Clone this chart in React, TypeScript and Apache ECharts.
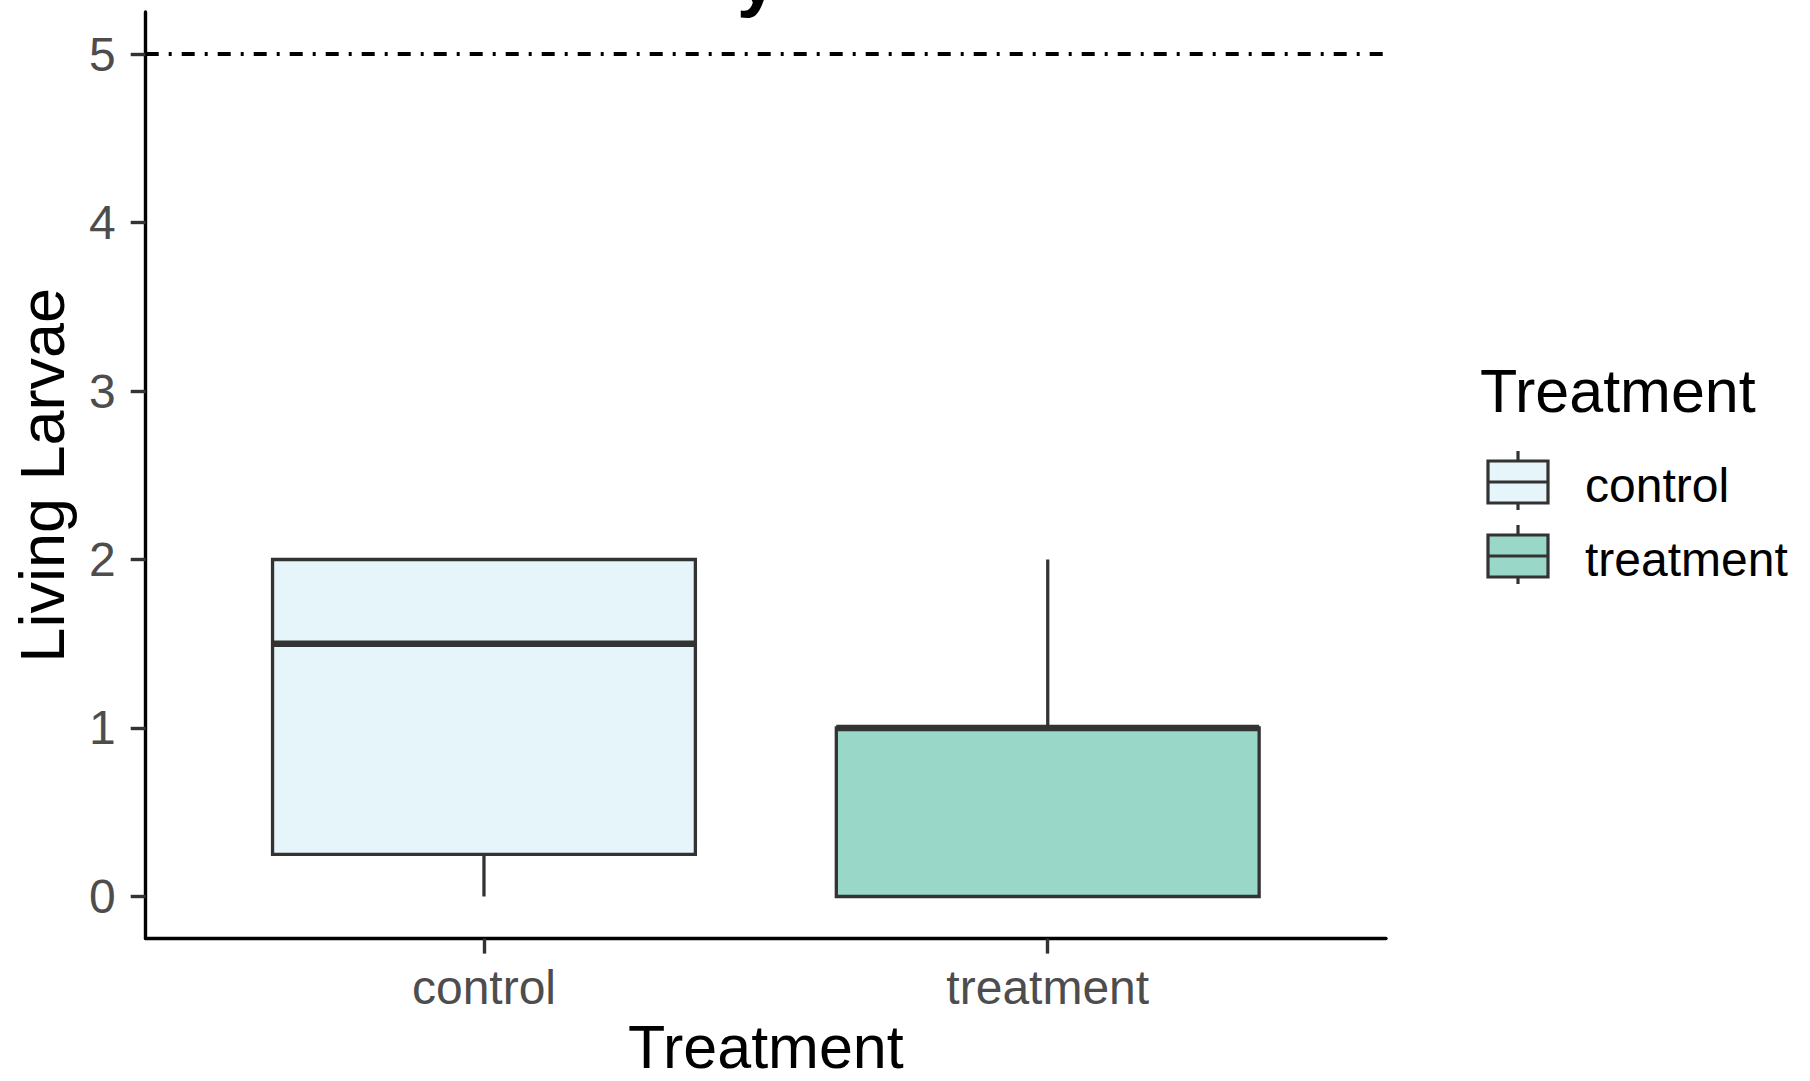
import React, { useEffect, useRef } from "react";
import * as echarts from "echarts";

const categories = ["control", "treatment"];
const catPos = [1, 2];
const boxMin = [0, 0];
const boxQ1 = [0.25, 0];
const boxMedian = [1.5, 1];
const boxQ3 = [2, 1];
const boxMax = [2, 2];
const fills = ["#E5F5F9", "#99D8C9"];
const yTicks = [0, 1, 2, 3, 4, 5];
const refLine = 5;
const xRange = [0.4, 2.6];
const yRange = [-0.25, 5.25];

const FONT = "'Liberation Sans', Arial, sans-serif";
const OUTLINE = "#333333";

export default function App() {
  const ref = useRef<HTMLDivElement>(null);
  useEffect(() => {
    if (!ref.current) return;
    const chart = echarts.init(ref.current, null, { renderer: "svg" });
    const boxData = categories.map((_, i) => [
      catPos[i],
      boxMin[i],
      boxQ1[i],
      boxMedian[i],
      boxQ3[i],
      boxMax[i],
    ]);

    const legendChildren: any[] = [];
    legendChildren.push({
      type: "text",
      x: 1480,
      y: 391,
      style: {
        text: "Treatment",
        font: `61px ${FONT}`,
        fill: "#000",
        align: "left",
        verticalAlign: "middle",
      },
    });
    categories.forEach((c, i) => {
      const top = 461 + i * 74;
      const h = 42;
      const left = 1488;
      const w = 60;
      const cx = left + w / 2;
      legendChildren.push({
        type: "line",
        shape: { x1: cx, y1: top - 10, x2: cx, y2: top + h + 7 },
        style: { stroke: OUTLINE, lineWidth: 3.2 },
      });
      legendChildren.push({
        type: "rect",
        shape: { x: left, y: top, width: w, height: h },
        style: { fill: fills[i], stroke: OUTLINE, lineWidth: 3.2 },
      });
      legendChildren.push({
        type: "line",
        shape: { x1: left, y1: top + h / 2, x2: left + w, y2: top + h / 2 },
        style: { stroke: OUTLINE, lineWidth: 3.2 },
      });
      legendChildren.push({
        type: "text",
        x: 1585,
        y: top + 24,
        style: {
          text: c,
          font: `48px ${FONT}`,
          fill: "#000",
          align: "left",
          verticalAlign: "middle",
        },
      });
    });

    const option: any = {
      animation: false,
      backgroundColor: "#ffffff",
      grid: {
        left: 145.7,
        top: 11.9,
        width: 1240.3,
        height: 926.7,
        containLabel: false,
        outerBoundsMode: "none",
      },
      xAxis: {
        type: "value",
        min: xRange[0],
        max: xRange[1],
        name: "Treatment",
        nameLocation: "middle",
        nameGap: 75,
        nameTextStyle: { fontFamily: FONT, fontSize: 61, color: "#000" },
        axisLine: { show: true, onZero: false, lineStyle: { color: "#000", width: 3.4 } },
        axisTick: { show: true, length: 15, customValues: catPos, lineStyle: { color: OUTLINE, width: 3.4 } },
        axisLabel: {
          customValues: catPos,
          margin: 25,
          fontFamily: FONT,
          fontSize: 48,
          color: "#4D4D4D",
          formatter: (v: number) => categories[Math.round(v) - 1] ?? "",
        },
        splitLine: { show: false },
      },
      yAxis: {
        type: "value",
        min: yRange[0],
        max: yRange[1],
        name: "Living Larvae",
        nameLocation: "middle",
        nameRotate: 90,
        nameGap: 72,
        nameTextStyle: { fontFamily: FONT, fontSize: 63, color: "#000" },
        axisLine: { show: true, onZero: false, lineStyle: { color: "#000", width: 3.4 } },
        axisTick: { show: true, length: 15, customValues: yTicks, lineStyle: { color: OUTLINE, width: 3.4 } },
        axisLabel: {
          customValues: yTicks,
          margin: 30,
          fontFamily: FONT,
          fontSize: 48,
          color: "#4D4D4D",
        },
        splitLine: { show: false },
      },
      series: [
        {
          type: "line",
          data: [
            [xRange[0], refLine],
            [xRange[1], refLine],
          ],
          symbol: "none",
          silent: true,
          lineStyle: { color: "#000", width: 4, type: [13, 10, 3, 10] },
          z: 1,
        },
        {
          type: "custom",
          data: boxData,
          dimensions: ["x", "min", "q1", "median", "q3", "max"],
          encode: { x: 0, y: [1, 2, 3, 4, 5] },
          z: 2,
          renderItem: (params: any, api: any) => {
            const idx = params.dataIndex;
            const x = api.value(0);
            const lo = api.value(1);
            const q1 = api.value(2);
            const med = api.value(3);
            const q3 = api.value(4);
            const hi = api.value(5);
            const w = api.size([0.75, 0])[0];
            const pLo = api.coord([x, lo]);
            const pQ1 = api.coord([x, q1]);
            const pMed = api.coord([x, med]);
            const pQ3 = api.coord([x, q3]);
            const pHi = api.coord([x, hi]);
            const cx = pLo[0];
            const children: any[] = [];
            if (hi > q3) {
              children.push({
                type: "line",
                shape: { x1: cx, y1: pQ3[1], x2: cx, y2: pHi[1] },
                style: { stroke: OUTLINE, lineWidth: 3.3 },
              });
            }
            if (lo < q1) {
              children.push({
                type: "line",
                shape: { x1: cx, y1: pQ1[1], x2: cx, y2: pLo[1] },
                style: { stroke: OUTLINE, lineWidth: 3.3 },
              });
            }
            children.push({
              type: "rect",
              shape: { x: cx - w / 2, y: pQ3[1], width: w, height: pQ1[1] - pQ3[1] },
              style: { fill: fills[idx], stroke: OUTLINE, lineWidth: 3.3 },
            });
            children.push({
              type: "line",
              shape: { x1: cx - w / 2, y1: pMed[1], x2: cx + w / 2, y2: pMed[1] },
              style: { stroke: OUTLINE, lineWidth: 6.6 },
            });
            return { type: "group", children };
          },
        },
      ],
      graphic: [
        {
          type: "text",
          x: 737,
          y: 14,
          style: {
            text: "y",
            font: `bold 73px ${FONT}`,
            fill: "#000",
            align: "left",
            verticalAlign: "bottom",
          },
        },
        { type: "group", children: legendChildren },
      ],
    };
    chart.setOption(option);
    return () => chart.dispose();
  }, []);
  return (
    <div
      ref={ref}
      style={{ position: "fixed", left: 0, top: 0, width: 1810, height: 1081 }}
    />
  );
}
